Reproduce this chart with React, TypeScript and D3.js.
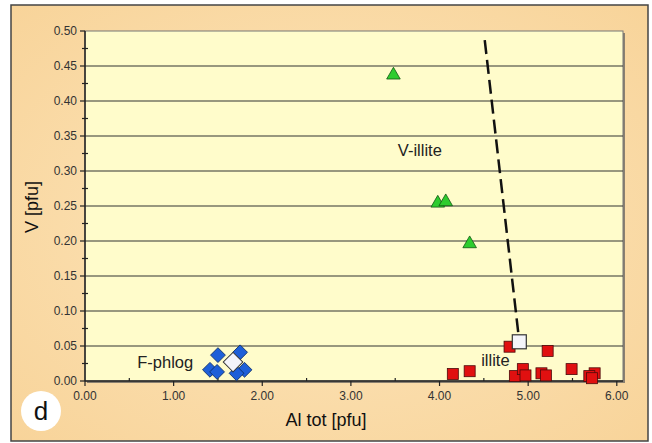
import React, { useEffect, useRef } from "react";
import * as d3 from "d3";

// V-illite (green triangles)
const vIlliteAl = [3.48, 3.98, 4.07, 4.34];
const vIlliteV = [0.437, 0.254, 0.256, 0.196];

// illite (red squares)
const illiteAl = [4.79, 5.22, 4.15, 4.34, 4.85, 4.94, 4.97, 5.15, 5.2, 5.49, 5.75, 5.69, 5.72];
const illiteV = [0.049, 0.043, 0.01, 0.014, 0.007, 0.017, 0.008, 0.011, 0.008, 0.017, 0.011, 0.007, 0.004];

// F-phlog (blue diamonds)
const phlogAl = [1.5, 1.41, 1.49, 1.75, 1.8, 1.71];
const phlogV = [0.037, 0.016, 0.013, 0.041, 0.016, 0.011];

// mean points (white)
const meanAl = [1.67, 4.9];
const meanV = [0.027, 0.056];

// trend line
const trendAl = [4.51, 4.9];
const trendV = [0.487, 0.056];

const xTicks = [0, 1, 2, 3, 4, 5, 6];
const yTicks = [0, 0.05, 0.1, 0.15, 0.2, 0.25, 0.3, 0.35, 0.4, 0.45, 0.5];

const W = 652,
  H = 443;
const FONT = "Liberation Sans, Arial, sans-serif";

const App = () => {
  const ref = useRef<SVGSVGElement>(null);

  useEffect(() => {
    drawChart();
  }, []);

  const drawChart = () => {
    const svg = d3.select(ref.current);
    svg.selectAll("*").remove();

    const left = 85,
      right = 623,
      top = 31,
      bottom = 381;

    const x = d3.scaleLinear().domain([0, 6.07]).range([left, right]);
    const y = d3.scaleLinear().domain([0, 0.5]).range([bottom, top]);

    const defs = svg.append("defs");
    const grad = defs
      .append("radialGradient")
      .attr("id", "bg")
      .attr("cx", "50%")
      .attr("cy", "50%")
      .attr("r", "70%");
    grad.append("stop").attr("offset", "0%").attr("stop-color", "#fde6bd");
    grad.append("stop").attr("offset", "100%").attr("stop-color", "#f8d49a");

    // outer panel
    svg
      .append("rect")
      .attr("x", 11)
      .attr("y", 5)
      .attr("width", 637)
      .attr("height", 436)
      .attr("fill", "url(#bg)")
      .attr("stroke", "#444")
      .attr("stroke-width", 1.5);

    // plot area with small shadow
    svg
      .append("rect")
      .attr("x", left + 2)
      .attr("y", top + 2)
      .attr("width", right - left)
      .attr("height", bottom - top)
      .attr("fill", "#8a8070");
    svg
      .append("rect")
      .attr("x", left)
      .attr("y", top)
      .attr("width", right - left)
      .attr("height", bottom - top)
      .attr("fill", "#fffccb")
      .attr("stroke", "#777")
      .attr("stroke-width", 1);

    // horizontal gridlines
    svg
      .selectAll(".grid")
      .data(yTicks.slice(1, -1))
      .join("line")
      .attr("x1", left)
      .attr("x2", right)
      .attr("y1", (d) => y(d))
      .attr("y2", (d) => y(d))
      .attr("stroke", "#333")
      .attr("stroke-width", 1.1);

    // axes lines
    const axisColor = "#222";
    svg
      .append("line")
      .attr("x1", left)
      .attr("x2", left)
      .attr("y1", top)
      .attr("y2", bottom)
      .attr("stroke", axisColor)
      .attr("stroke-width", 1.5);
    svg
      .append("line")
      .attr("x1", left)
      .attr("x2", right)
      .attr("y1", bottom)
      .attr("y2", bottom)
      .attr("stroke", axisColor)
      .attr("stroke-width", 1.5);

    // y ticks: major outside, minor crossing
    svg
      .selectAll(".ytick")
      .data(yTicks)
      .join("line")
      .attr("x1", left - 5)
      .attr("x2", left)
      .attr("y1", (d) => y(d))
      .attr("y2", (d) => y(d))
      .attr("stroke", axisColor)
      .attr("stroke-width", 1.2);
    svg
      .selectAll(".yminor")
      .data(yTicks.slice(0, -1).map((d) => d + 0.025))
      .join("line")
      .attr("x1", left - 3)
      .attr("x2", left + 3)
      .attr("y1", (d) => y(d))
      .attr("y2", (d) => y(d))
      .attr("stroke", axisColor)
      .attr("stroke-width", 1.2);

    svg
      .selectAll(".ylabel")
      .data(yTicks)
      .join("text")
      .attr("x", left - 8)
      .attr("y", (d) => y(d) + 4)
      .attr("text-anchor", "end")
      .style("font-family", FONT)
      .style("font-size", "12px")
      .attr("fill", "#333")
      .text((d) => d.toFixed(2));

    // x ticks
    svg
      .selectAll(".xtick")
      .data(xTicks)
      .join("line")
      .attr("x1", (d) => x(d))
      .attr("x2", (d) => x(d))
      .attr("y1", bottom)
      .attr("y2", bottom + 5)
      .attr("stroke", axisColor)
      .attr("stroke-width", 1.2);
    svg
      .selectAll(".xminor")
      .data(xTicks.slice(0, -1).map((d) => d + 0.5))
      .join("line")
      .attr("x1", (d) => x(d))
      .attr("x2", (d) => x(d))
      .attr("y1", bottom - 3)
      .attr("y2", bottom)
      .attr("stroke", axisColor)
      .attr("stroke-width", 1.2);

    svg
      .selectAll(".xlabel")
      .data(xTicks)
      .join("text")
      .attr("x", (d) => x(d))
      .attr("y", bottom + 19)
      .attr("text-anchor", "middle")
      .style("font-family", FONT)
      .style("font-size", "12px")
      .attr("fill", "#333")
      .text((d) => d.toFixed(2));

    // axis titles
    svg
      .append("text")
      .attr("x", 326)
      .attr("y", 426)
      .attr("text-anchor", "middle")
      .style("font-family", FONT)
      .style("font-size", "18px")
      .attr("fill", "#111")
      .text("Al tot [pfu]");
    svg
      .append("text")
      .attr("transform", "translate(38,207) rotate(-90)")
      .attr("text-anchor", "middle")
      .style("font-family", FONT)
      .style("font-size", "18px")
      .attr("fill", "#111")
      .text("V [pfu]");

    // trend line
    const line = d3
      .line<number>()
      .x((d, i) => x(trendAl[i]))
      .y((d) => y(d));
    svg
      .append("path")
      .attr("d", line(trendV))
      .attr("fill", "none")
      .attr("stroke", "#111")
      .attr("stroke-width", 2.5)
      .attr("stroke-dasharray", "14,6");

    // triangles
    const tri = d3.symbol().type(d3.symbolTriangle).size(80);
    svg
      .selectAll(".tri")
      .data(vIlliteAl)
      .join("path")
      .attr("d", tri)
      .attr("transform", (d, i) => `translate(${x(d)},${y(vIlliteV[i])})`)
      .attr("fill", "#2ecc2e")
      .attr("stroke", "#115511")
      .attr("stroke-width", 0.8);

    // squares
    svg
      .selectAll(".sq")
      .data(illiteAl)
      .join("rect")
      .attr("x", (d) => x(d) - 5.5)
      .attr("y", (d, i) => y(illiteV[i]) - 5.5)
      .attr("width", 11)
      .attr("height", 11)
      .attr("fill", "#e01010")
      .attr("stroke", "#4a0a0a")
      .attr("stroke-width", 0.8);

    // diamonds (rotated squares)
    const dia = d3.symbol().type(d3.symbolSquare).size(110);
    svg
      .selectAll(".dia")
      .data(phlogAl)
      .join("path")
      .attr("d", dia)
      .attr("transform", (d, i) => `translate(${x(d)},${y(phlogV[i])}) rotate(45)`)
      .attr("fill", "#1e5fd8")
      .attr("stroke", "#0a2a66")
      .attr("stroke-width", 0.8);

    // mean points
    svg
      .append("path")
      .attr("d", d3.symbol().type(d3.symbolSquare).size(190)())
      .attr("transform", `translate(${x(meanAl[0])},${y(meanV[0])}) rotate(45)`)
      .attr("fill", "#f4f4fa")
      .attr("stroke", "#333")
      .attr("stroke-width", 1);
    svg
      .append("rect")
      .attr("x", x(meanAl[1]) - 7)
      .attr("y", y(meanV[1]) - 7)
      .attr("width", 14)
      .attr("height", 14)
      .attr("fill", "#f4f4fa")
      .attr("stroke", "#333")
      .attr("stroke-width", 1.2);

    // group labels
    const labels = [
      { t: "V-illite", x: 3.53, y: 0.321 },
      { t: "illite", x: 4.47, y: 0.021 },
      { t: "F-phlog", x: 0.59, y: 0.018 },
    ];
    svg
      .selectAll(".lab")
      .data(labels)
      .join("text")
      .attr("x", (d) => x(d.x))
      .attr("y", (d) => y(d.y))
      .style("font-family", FONT)
      .style("font-size", "16.5px")
      .attr("fill", "#222")
      .text((d) => d.t);

    // panel letter
    svg
      .append("circle")
      .attr("cx", 41)
      .attr("cy", 411)
      .attr("r", 20)
      .attr("fill", "#fff");
    svg
      .append("text")
      .attr("x", 41)
      .attr("y", 420)
      .attr("text-anchor", "middle")
      .style("font-family", FONT)
      .style("font-size", "26px")
      .attr("fill", "#111")
      .text("d");
  };

  return (
    <svg
      ref={ref}
      width={W}
      height={H}
      style={{ position: "absolute", left: 0, top: 0, background: "#fff" }}
    ></svg>
  );
};

export default App;
